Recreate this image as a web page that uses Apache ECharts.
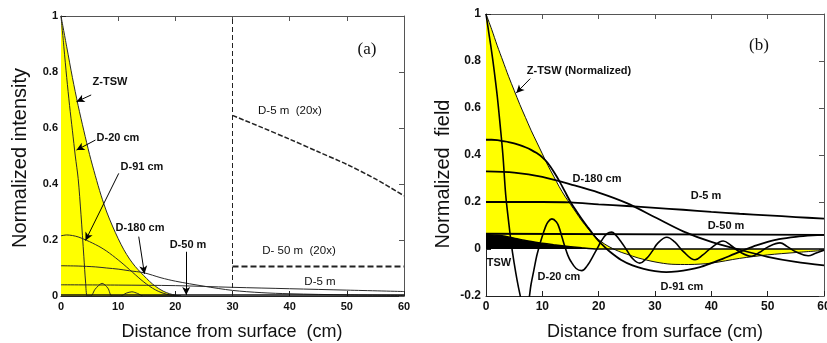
<!DOCTYPE html>
<html><head><meta charset="utf-8">
<script src="https://cdn.jsdelivr.net/npm/echarts@6/dist/echarts.min.js"></script>
<style>html,body{margin:0;padding:0;background:#fff}#c{width:827px;height:343px}</style>
</head><body><div id="c"></div><script>
// ---------- Panel (a): normalized intensity ----------
const a_ztsw_x = [0,1,2,3,4,5,6,7,8,9,10,11,12,13,14,15,16,17,18,19,20,21];
const a_ztsw_y = [1,0.89,0.78,0.68,0.59,0.505,0.43,0.36,0.3,0.25,0.205,0.165,0.132,0.105,0.083,0.062,0.043,0.028,0.016,0.008,0.003,0];
const a_d20_x = [0,0.5,1,1.5,2,2.5,3,3.5,4,4.3,4.6,5.2,6,7.2,8.2,8.9,10.4,11.4,12.4,13.4,14.4,20];
const a_d20_y = [1,0.89,0.78,0.68,0.59,0.5,0.42,0.29,0.14,0.05,0,0,0.025,0.045,0.028,0,0,0.01,0.015,0.009,0,0];
const a_d91_x = [0,1,2,3,4,5,6,7,8,9,10,11,12,13,14,15,16,17,18,19,20,21];
const a_d91_y = [0.215,0.218,0.216,0.211,0.203,0.194,0.184,0.173,0.16,0.145,0.129,0.112,0.094,0.076,0.058,0.042,0.028,0.017,0.009,0.004,0.001,0];
const a_d180_x = [0,3,6,8,10,12,14.5,17.5,20,25,30,35,40,50,60];
const a_d180_y = [0.108,0.107,0.104,0.1,0.096,0.09,0.083,0.065,0.053,0.035,0.02,0.012,0.008,0.004,0.002];
const a_d5m_x = [0,10,20,30,40,50,60];
const a_d5m_y = [0.04,0.039,0.037,0.031,0.026,0.021,0.016];
const a_d50m_x = [0,60];
const a_d50m_y = [0.004,0.004];
const a_d5m20_x = [30,35,40,45,50,55,60];
const a_d5m20_y = [0.645,0.603,0.56,0.515,0.47,0.418,0.358];
const a_d50m20_x = [30,60];
const a_d50m20_y = [0.105,0.105];
const a_split_x = [30,30];
const a_split_y = [0,1];

// ---------- Panel (b): normalized field ----------
const b_ztsw_x = [0,1,2,3,4,5,6,7,8,9,10,11,12,13,14,15,16,17,18,19,20,21,22,23,24,25,27,30,33,36,40,45,50,55,60];
const b_ztsw_y = [1,0.935,0.865,0.8,0.735,0.675,0.615,0.56,0.505,0.455,0.405,0.355,0.31,0.265,0.225,0.19,0.155,0.12,0.09,0.062,0.04,0.022,0.008,-0.004,-0.014,-0.022,-0.038,-0.055,-0.065,-0.066,-0.06,-0.04,-0.025,-0.015,-0.006];
const b_tsw_x = [0,2,3.4,5,7,9.6,12,15,17,19.7,30,45,60];
const b_tsw_y = [0.062,0.058,0.054,0.046,0.036,0.026,0.018,0.01,0.005,0,0,0,0];
const b_d20_x = [0,0.5,1,1.5,2,2.5,3,3.5,4,4.5,5,5.5,6,6.5,7,7.5,8,8.5,9,9.5,10,10.5,11,11.7,12.5,13,13.5,14,14.5,15,16,17,18,19,19.7,20.5,21.5,22.3,23,24,25,26,27.3,28.5,29.5,30.5,32.1,33.5,35,37.1,38.5,40,42.1,43.5,45,47.1,48.5,50,52.2,53.5,55,57.2,58.5,60];
const b_d20_y = [1,0.92,0.84,0.75,0.65,0.53,0.4,0.23,0.12,0.02,-0.06,-0.13,-0.19,-0.24,-0.26,-0.23,-0.15,-0.09,-0.03,0.015,0.055,0.09,0.115,0.128,0.115,0.09,0.05,0.01,-0.025,-0.05,-0.083,-0.092,-0.07,-0.03,0,0.035,0.065,0.072,0.06,0.03,-0.005,-0.04,-0.06,-0.04,-0.01,0.025,0.05,0.03,-0.01,-0.046,-0.025,0.005,0.034,0.015,-0.012,-0.031,-0.015,0.008,0.026,0.01,-0.012,-0.029,-0.018,-0.005];
const b_d91_x = [0,1,2,3,4,5,6,7,8,9,10,11,12,13,14,15,16,17,18,19,20,21,22,24,26,28,30,32,34,36,38,40,42,44,46,48,50,52,55,58,60];
const b_d91_y = [0.465,0.465,0.463,0.459,0.455,0.449,0.442,0.433,0.422,0.408,0.39,0.365,0.33,0.29,0.245,0.2,0.163,0.128,0.095,0.063,0.034,0.01,-0.012,-0.047,-0.07,-0.085,-0.094,-0.098,-0.095,-0.088,-0.077,-0.06,-0.042,-0.022,-0.003,0.015,0.03,0.042,0.052,0.058,0.06];
const b_d180_x = [0,5,10,15,20,25,30,35,40,45,50,55,60];
const b_d180_y = [0.33,0.325,0.307,0.275,0.24,0.195,0.135,0.075,0.03,-0.003,-0.033,-0.055,-0.07];
const b_d5m_x = [0,10,15,20,25,30,35,40,45,50,55,60];
const b_d5m_y = [0.2,0.2,0.198,0.19,0.183,0.175,0.167,0.158,0.15,0.143,0.136,0.129];
const b_d50m_x = [0,60];
const b_d50m_y = [0.065,0.06];

const zip = (xs, ys) => xs.map((x, i) => [x, ys[i]]);

const FRAME = '#222';
const tickFont = {fontSize: 11, fontWeight: 'bold', color: '#111', fontFamily: 'Liberation Sans, Arial, sans-serif'};

function xMain(g, fs) {
  return {type:'value', gridIndex:g, min:0, max:60, interval:10,
    axisLine:{show:true, onZero:false, lineStyle:{color:FRAME, width:1}},
    axisTick:{show:true, inside:true, length:5, lineStyle:{color:FRAME}},
    axisLabel:Object.assign({margin:5}, tickFont, {fontSize:fs}),
    splitLine:{show:false}};
}
function xTop(g) {
  return {type:'value', gridIndex:g, position:'top', min:0, max:60, interval:10,
    axisLine:{show:true, onZero:false, lineStyle:{color:'#555', width:1}},
    axisTick:{show:true, inside:true, length:5, lineStyle:{color:'#555'}},
    axisLabel:{show:false}, splitLine:{show:false}};
}
function yMain(g, min, fs, margin) {
  return {type:'value', gridIndex:g, min:min, max:1, interval:0.2,
    axisLine:{show:true, onZero:false, lineStyle:{color:FRAME, width:1}},
    axisTick:{show:true, inside:true, length:5, lineStyle:{color:FRAME}},
    axisLabel:Object.assign({margin:margin}, tickFont, {fontSize:fs}),
    splitLine:{show:false}};
}
function yRight(g, min) {
  return {type:'value', gridIndex:g, position:'right', min:min, max:1, interval:0.2,
    axisLine:{show:true, onZero:false, lineStyle:{color:'#555', width:1}},
    axisTick:{show:true, inside:true, length:5, lineStyle:{color:'#555'}},
    axisLabel:{show:false}, splitLine:{show:false}};
}

function line(g, xs, ys, opt) {
  return Object.assign({
    type:'line', xAxisIndex: g*2, yAxisIndex: g*2, data: zip(xs, ys),
    showSymbol:false, symbol:'none', smooth:0.3, silent:true,
    lineStyle:{color:'#2a2a2a', width:1}
  }, opt || {});
}

function arrows(list) {
  return {silent:true, symbol:['none','arrow'], symbolSize:[6,8],
    label:{show:false}, emphasis:{disabled:true},
    lineStyle:{color:'#000', width:1, type:'solid'},
    itemStyle:{color:'#000'},
    data:list.map(a => [{coord:[a[0],a[1]]},{coord:[a[2],a[3]]}])};
}

const series = [
  // Panel a
  line(0, a_ztsw_x, a_ztsw_y, {areaStyle:{color:'#ffff00', opacity:1}, lineStyle:{color:'#2a2a2a', width:1}}),
  line(0, a_d20_x, a_d20_y),
  line(0, a_d91_x, a_d91_y),
  line(0, a_d180_x, a_d180_y),
  line(0, a_d5m_x, a_d5m_y),
  line(0, a_d50m_x, a_d50m_y, {lineStyle:{color:'#111', width:1.5}, smooth:false,
    markLine: arrows([[5.28,0.718,2.71,0.694],[6.03,0.557,2.71,0.521],[10.1,0.438,4.28,0.198],[13.6,0.212,14.6,0.079],[21.9,0.158,21.9,0.004]])}),
  line(0, a_split_x, a_split_y, {smooth:false, lineStyle:{color:'#222', width:1, type:[5,3]}}),
  line(0, a_d5m20_x, a_d5m20_y, {lineStyle:{color:'#222', width:1.5, type:[5,2]}}),
  line(0, a_d50m20_x, a_d50m20_y, {smooth:false, lineStyle:{color:'#222', width:2, type:[6,3]}}),
  // Panel b
  line(1, b_ztsw_x, b_ztsw_y, {areaStyle:{color:'#ffff00', opacity:1}, lineStyle:{color:'#111', width:1}}),
  line(1, b_tsw_x, b_tsw_y, {areaStyle:{color:'#000', opacity:1}, lineStyle:{color:'#000', width:1.5}, smooth:0.2}),
  line(1, b_d50m_x, b_d50m_y, {smooth:false, lineStyle:{color:'#000', width:1.8},
    markLine: arrows([[7.85,0.725,5.37,0.664]])}),
  line(1, b_d5m_x, b_d5m_y, {lineStyle:{color:'#000', width:1.8}}),
  line(1, b_d180_x, b_d180_y, {lineStyle:{color:'#000', width:1.8}}),
  line(1, b_d91_x, b_d91_y, {lineStyle:{color:'#000', width:1.8}}),
  line(1, b_d20_x, b_d20_y, {lineStyle:{color:'#000', width:1.6}, smooth:0.4})
];

function txt(x, y, s, font, extra) {
  return Object.assign({type:'text', x:x, y:y, silent:true, z:100,
    style:{text:s, font:font, fill:'#111', align:'center', verticalAlign:'middle'}}, extra || {});
}
const LBL = 'bold 11px "Liberation Sans", Arial, sans-serif';
const TITLE = '18px "Liberation Sans", Arial, sans-serif';
const graphic = [
  // panel a labels
  txt(110, 82, 'Z-TSW', LBL),
  txt(118, 138, 'D-20 cm', LBL),
  txt(142, 167, 'D-91 cm', LBL),
  txt(140, 228, 'D-180 cm', LBL),
  txt(188, 245, 'D-50 m', LBL),
  txt(290, 111, 'D-5 m  (20x)', '11.5px "Liberation Sans", Arial, sans-serif'),
  txt(299, 251, 'D- 50 m  (20x)', '11.5px "Liberation Sans", Arial, sans-serif'),
  txt(320, 282, 'D-5 m', '11.5px "Liberation Sans", Arial, sans-serif'),
  txt(367, 50, '(a)', '17px "Liberation Serif", "Times New Roman", serif'),
  txt(20, 158, 'Normalized intensity', '20px "Liberation Sans", Arial, sans-serif', {rotation: Math.PI/2}),
  txt(232, 332, 'Distance from surface  (cm)', TITLE),
  // panel b labels
  txt(579, 71, 'Z-TSW (Normalized)', LBL),
  txt(597, 179, 'D-180 cm', LBL),
  txt(706, 196, 'D-5 m', LBL),
  txt(726, 226, 'D-50 m', LBL),
  txt(499, 263, 'TSW', LBL),
  txt(559, 277, 'D-20 cm', LBL),
  txt(682, 287, 'D-91 cm', LBL),
  txt(759, 46, '(b)', '17px "Liberation Serif", "Times New Roman", serif'),
  txt(443, 174, 'Normalized  field', '20px "Liberation Sans", Arial, sans-serif', {rotation: Math.PI/2}),
  txt(655, 332, 'Distance from surface (cm)', TITLE)
];

const chart = echarts.init(document.getElementById('c'), null, {renderer:'canvas'});
chart.setOption({
  animation:false,
  backgroundColor:'#fff',
  grid:[
    {left:61, top:16, width:343, height:280, outerBoundsMode:'none', containLabel:false},
    {left:486, top:14, width:338, height:282, outerBoundsMode:'none', containLabel:false}
  ],
  xAxis:[xMain(0, 11), xTop(0), xMain(1, 12), xTop(1)],
  yAxis:[yMain(0, 0, 11, 3), yRight(0, 0), yMain(1, -0.2, 12, 5), yRight(1, -0.2)],
  series:series,
  graphic:graphic
});
</script></body></html>
